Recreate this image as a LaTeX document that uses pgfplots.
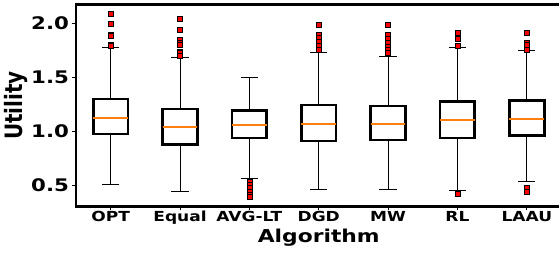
\documentclass[border=0pt]{standalone}
\usepackage{fontspec}
\setmainfont{DejaVu Sans}[FakeStretch=1.23]
\newfontfamily\ylabfont{DejaVu Sans}
\usepackage{pgfplots}
\pgfplotsset{compat=1.18}
\usepgfplotslibrary{statistics}
\definecolor{mplorange}{HTML}{FF7F0E}
\pgfplotsset{mybox/.style={solid, draw=black, mark=square*,
  mark size=2.5bp, mark options={fill=red, draw=black, line width=0.5bp, solid},
  boxplot/draw direction=y,
  boxplot/box extend=0.5, boxplot/whisker extend=0.25,
  boxplot/every box/.style={draw=black, line width=2.7bp, fill=none},
  boxplot/every median/.style={draw=mplorange, line width=1.8bp},
  boxplot/every whisker/.style={draw=black, line width=1bp}}}
\begin{document}
\begin{tikzpicture}
\begin{axis}[
  at={(0,0)}, anchor=south west, scale only axis,
  width=485.5bp, height=202.4bp,
  xmin=0.5, xmax=7.5, ymin=0.299, ymax=2.173,
  axis line style={line width=2.6bp},
  xtick={1,2,3,4,5,6,7},
  xticklabels={OPT,Equal,AVG-LT,DGD,MW,RL,LAAU},
  ytick={0.5,1.0,1.5,2.0},
  /pgf/number format/assume math mode=true,
  y tick label style={/pgf/number format/.cd, fixed, fixed zerofill, precision=1, /tikz/.cd,
    font=\bfseries\fontsize{17.4}{18}\selectfont},
  x tick label style={font=\bfseries\fontsize{13.9}{15}\selectfont,
    text height=0.75em, text depth=0.22em},
  tick align=outside, major tick length=3.5bp,
  tick style={black, line width=0.8bp},
  xtick pos=bottom, ytick pos=left,
  xlabel={Algorithm}, ylabel={\scalebox{1}[1.2]{Utility}},
  xlabel style={font=\bfseries\fontsize{17.8}{20}\selectfont, yshift=1.5bp},
  ylabel style={font=\ylabfont\bfseries\fontsize{20}{22}\selectfont, yshift=-3.5bp},
]
\addplot[mybox, boxplot prepared={draw position=1, median=1.12, upper quartile=1.296,
  lower quartile=0.972, upper whisker=1.771, lower whisker=0.506}]
  table[row sep=\\, y index=0] {data\\ 2.086\\ 1.997\\ 1.895\\ 1.88\\ 1.796\\ 1.79\\};
\addplot[mybox, boxplot prepared={draw position=2, median=1.04, upper quartile=1.204,
  lower quartile=0.873, upper whisker=1.685, lower whisker=0.44}]
  table[row sep=\\, y index=0] {data\\ 2.043\\ 1.935\\ 1.843\\ 1.82\\ 1.796\\ 1.734\\ 1.72\\ 1.70\\};
\addplot[mybox, boxplot prepared={draw position=3, median=1.058, upper quartile=1.188,
  lower quartile=0.935, upper whisker=1.497, lower whisker=0.556}]
  table[row sep=\\, y index=0] {data\\ 0.53\\ 0.50\\ 0.47\\ 0.44\\ 0.41\\ 0.39\\};
\addplot[mybox, boxplot prepared={draw position=4, median=1.062, upper quartile=1.241,
  lower quartile=0.907, upper whisker=1.729, lower whisker=0.46}]
  table[row sep=\\, y index=0] {data\\ 1.988\\ 1.892\\ 1.867\\ 1.827\\ 1.787\\ 1.75\\};
\addplot[mybox, boxplot prepared={draw position=5, median=1.065, upper quartile=1.231,
  lower quartile=0.917, upper whisker=1.688, lower whisker=0.46}]
  table[row sep=\\, y index=0] {data\\ 1.981\\ 1.889\\ 1.858\\ 1.82\\ 1.78\\ 1.75\\ 1.72\\};
\addplot[mybox, boxplot prepared={draw position=6, median=1.102, upper quartile=1.271,
  lower quartile=0.935, upper whisker=1.771, lower whisker=0.447}]
  table[row sep=\\, y index=0] {data\\ 1.905\\ 1.852\\ 1.79\\ 0.423\\};
\addplot[mybox, boxplot prepared={draw position=7, median=1.114, upper quartile=1.281,
  lower quartile=0.957, upper whisker=1.741, lower whisker=0.531}]
  table[row sep=\\, y index=0] {data\\ 1.91\\ 1.82\\ 1.80\\ 1.756\\ 0.479\\ 0.435\\};
\end{axis}
\pgfresetboundingbox
\useasboundingbox (-76bp,-48.3bp) rectangle (483bp,206.7bp);
\end{tikzpicture}
\end{document}
